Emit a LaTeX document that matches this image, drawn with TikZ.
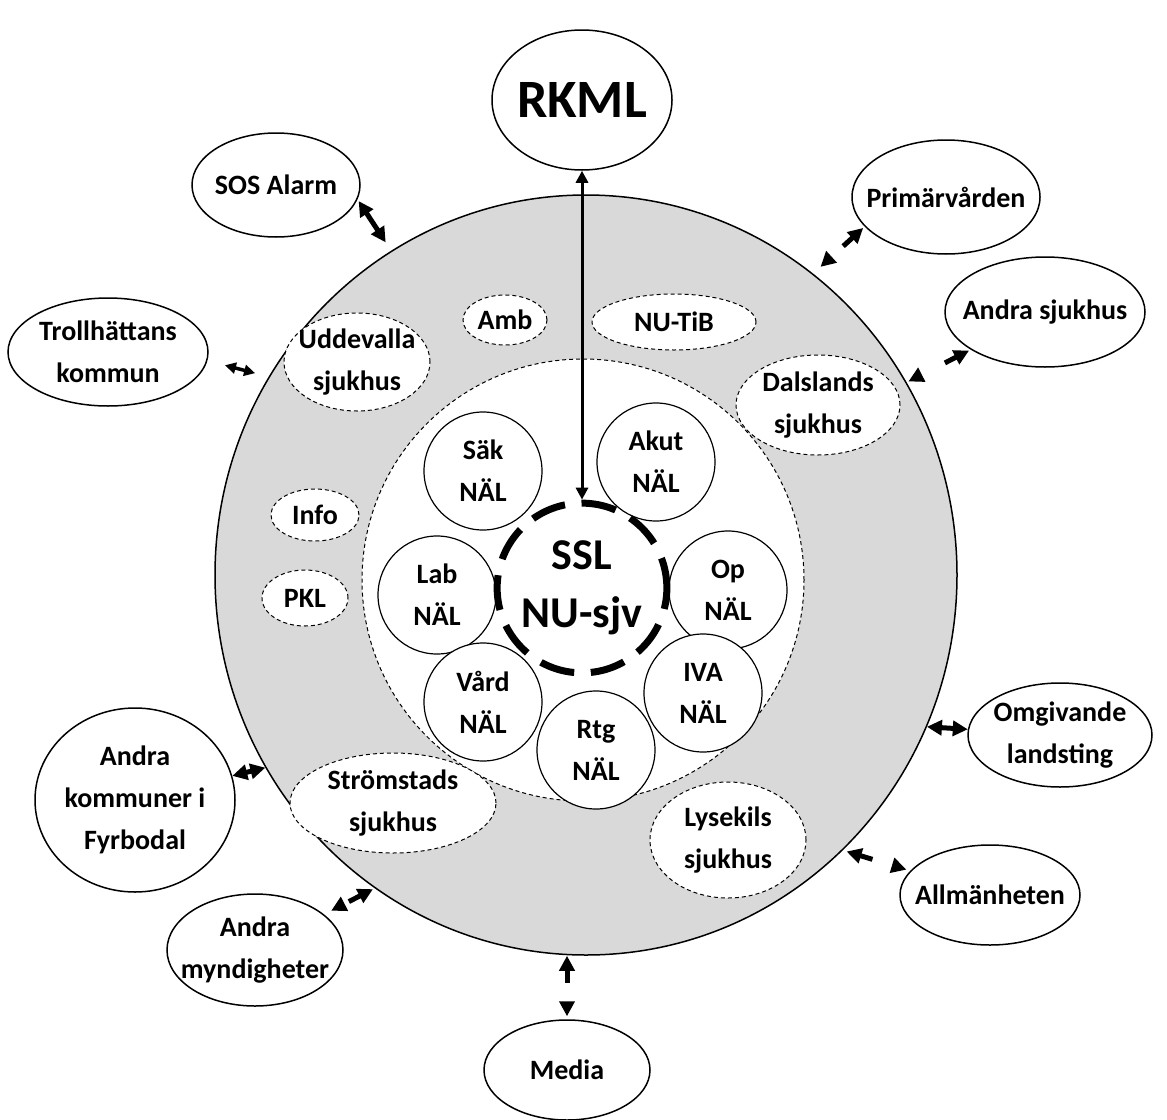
\documentclass[tikz,border=0pt]{standalone}
\usepackage{fontspec}
\setmainfont{Carlito}
\usetikzlibrary{arrows.meta,shapes.geometric}
\definecolor{zonegray}{RGB}{217,217,217}
\newcommand{\smalltxt}{\fontsize{14}{21}\selectfont\bfseries}
\newcommand{\bigtxt}{\fontsize{22}{29}\selectfont\bfseries}
\newcommand{\hugetxt}{\fontsize{27}{30}\selectfont\bfseries}

\begin{document}
\begin{tikzpicture}[x=0.5pt, y=-0.5pt,
  actor/.style={ellipse, draw=black, line width=0.75pt, fill=white, align=center, font=\smalltxt, inner sep=-30pt},
  unit/.style={ellipse, draw=black, line width=0.5pt, dash pattern=on 2pt off 1.5pt, fill=white, align=center,
               font=\smalltxt, inner sep=-30pt},
  nal/.style={circle, draw=black, line width=0.6pt, fill=white, align=center, font=\smalltxt, minimum size=59pt,
              inner sep=-30pt},
  dbl/.style={{Triangle[length=7.5pt,width=7.5pt]}-{Triangle[length=7.5pt,width=7.5pt]}, line width=2.5pt},
  dbldash/.style={dbl, dash pattern=on 6.5pt off 20pt},
  thindbl/.style={{Triangle[length=5.5pt,width=5.5pt]}-{Triangle[length=5.5pt,width=5.5pt]}, line width=1.75pt}]
\useasboundingbox (0,0) rectangle (1167,1119);
% zones
\node[ellipse, draw=black, line width=0.75pt, fill=zonegray, minimum width=371pt, minimum height=380pt] (zone) at (586,575) {};
\node[circle, draw=black, line width=0.5pt, dash pattern=on 2pt off 1.5pt, fill=white, minimum size=221pt] (core) at (583,580) {};
% outside actors
\node[actor, minimum width=90pt, minimum height=70pt, font=\hugetxt] (rkml) at (582,100) {RKML};
\node[actor, minimum width=84pt, minimum height=52pt] (sos) at (276,185) {SOS Alarm};
\node[actor, minimum width=94pt, minimum height=57pt] (prim) at (946,197) {Primärvården};
\node[actor, minimum width=100pt, minimum height=54pt] (troll) at (108,352) {Trollhättans\\kommun};
\node[actor, minimum width=100pt, minimum height=55pt] (andsj) at (1045,312) {Andra sjukhus};
\node[actor, minimum width=100pt, minimum height=92pt] (fyr) at (135,800) {Andra\\kommuner i\\Fyrbodal};
\node[actor, minimum width=92pt, minimum height=52pt] (omg) at (1060,735) {Omgivande\\landsting};
\node[actor, minimum width=88pt, minimum height=56pt] (myn) at (255,950) {Andra\\myndigheter};
\node[actor, minimum width=90pt, minimum height=50pt] (allm) at (990,895) {Allmänheten};
\node[actor, minimum width=83pt, minimum height=50pt] (media) at (567,1070) {Media};
% units in the grey zone
\node[unit, minimum width=42pt, minimum height=25pt] (amb) at (505,320) {Amb};
\node[unit, minimum width=82pt, minimum height=28pt] (nutib) at (674,322) {NU-TiB};
\node[unit, minimum width=73pt, minimum height=49pt] (udd) at (357,362) {Uddevalla\\sjukhus};
\node[unit, minimum width=82pt, minimum height=50pt] (dals) at (818,405) {Dalslands\\sjukhus};
\node[unit, minimum width=44pt, minimum height=26pt] (info) at (315,515) {Info};
\node[unit, minimum width=43pt, minimum height=28pt] (pkl) at (305,598) {PKL};
\node[unit, minimum width=103pt, minimum height=50pt] (strom) at (393,803) {Strömstads\\sjukhus};
\node[unit, minimum width=78pt, minimum height=58pt] (lyse) at (728,840) {Lysekils\\sjukhus};
% NÄL units
\node[nal] (sak) at (483,471) {Säk\\NÄL};
\node[nal] (akut) at (656,462) {Akut\\NÄL};
\node[nal] (op) at (728,590) {Op\\NÄL};
\node[nal] (lab) at (437,595) {Lab\\NÄL};
\node[nal] (iva) at (703,693) {IVA\\NÄL};
\node[nal] (vard) at (483,702) {Vård\\NÄL};
\node[nal] (rtg) at (596,750) {Rtg\\NÄL};
% SSL
\node[circle, draw=black, line width=3.5pt, dash pattern=on 17.5pt off 8.33pt, dash phase=2.26pt,
      minimum size=74pt, inner sep=-30pt] (ssl) at (582,588) {};
\node[font=\bigtxt, align=center] (ssltext) at (ssl.center) {SSL\\NU-sjv};
% connectors
\draw[{Triangle[length=6pt,width=6pt]}-{Triangle[length=6pt,width=6pt]}, line width=1.5pt] (rkml) -- (ssl);
\draw[dbl, shorten <=1pt, shorten >=5pt] (sos.-10) -- (zone.121);
\draw[dbldash, shorten <=1pt, shorten >=5pt] (prim.200) -- (zone.53);
\draw[thindbl, shorten <=9pt, shorten >=7pt] (troll.-5) -- (zone.148);
\draw[dbldash, shorten <=1pt, shorten >=1pt] (andsj) -- (zone.31);
\draw[dbl] (zone.-24) -- (omg);
\draw[dbl] (zone.211) -- (fyr);
\draw[dbldash, shorten <=1pt, shorten >=4pt] (zone.236) -- (myn);
\draw[dbldash, shorten <=2pt, shorten >=2pt] (zone.-47) -- (allm);
\draw[dbldash, shorten >=1.5pt] (media.north |- zone.south) -- (media.north);
\end{tikzpicture}
\end{document}
